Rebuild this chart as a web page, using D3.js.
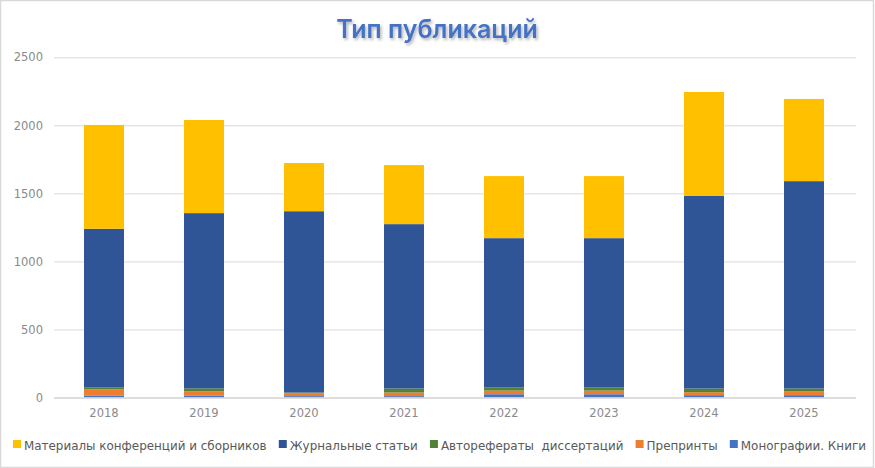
<!DOCTYPE html>
<html><head><meta charset="utf-8">
<script src="https://cdn.jsdelivr.net/npm/d3@7"></script>
<style>
html,body{margin:0;padding:0;background:#fff;}
svg{display:block;}
</style></head>
<body>
<svg id="chart" width="875" height="468"></svg>
<script>
const years = ["2018","2019","2020","2021","2022","2023","2024","2025"];
const monographs = [15, 15, 10, 10, 24, 24, 17, 17];
const preprints = [45, 30, 20, 27, 27, 27, 22, 27];
const autoref = [15, 22, 7, 29, 22, 22, 27, 22];
const journal = [1165, 1288, 1332, 1208, 1098, 1098, 1415, 1524];
const conference = [763, 684, 354, 434, 456, 456, 764, 604];
const yTicks = [0, 500, 1000, 1500, 2000, 2500];
const seriesNames = ["Монографии. Книги", "Препринты", "Авторефераты  диссертаций", "Журнальные статьи", "Материалы конференций и сборников"];
const seriesColors = ["#4472C4", "#ED7D31", "#548235", "#2F5597", "#FFC000"];
const seriesValues = [monographs, preprints, autoref, journal, conference];
const legendOrder = [4, 3, 2, 1, 0];

const svg = d3.select("#chart");
const W = 875, H = 468;

svg.append("rect").attr("x",0.5).attr("y",0.5).attr("width",W-2).attr("height",H-1)
  .attr("fill","#fff").attr("stroke","#d9d9d9").attr("stroke-width",1.5);

const defs = svg.append("defs");
const f = defs.append("filter").attr("id","shadow").attr("x","-10%").attr("y","-20%").attr("width","120%").attr("height","160%");
f.append("feDropShadow").attr("dx",1.5).attr("dy",2).attr("stdDeviation",1.5).attr("flood-color","#000").attr("flood-opacity",0.3);

svg.append("text").attr("x",437).attr("y",38).attr("text-anchor","middle")
  .attr("font-family","Inter, 'Open Sans', sans-serif").attr("font-weight",600).attr("font-size",25)
  .attr("fill","#4472C4").attr("filter","url(#shadow)").text("Тип публикаций");

const x = d3.scaleBand().domain(years).range([54, 854]).paddingInner(0.6).paddingOuter(0.3);
const y = d3.scaleLinear().domain([0, 2500]).range([397.5, 57.3]);

const yAxis = d3.axisLeft(y).tickValues(yTicks).tickSize(-(856-54)).tickPadding(10).tickFormat(d3.format("d"));
const gy = svg.append("g").attr("transform","translate(54,0)").call(yAxis);
gy.select(".domain").remove();
gy.selectAll(".tick line").attr("stroke","#d9d9d9").attr("stroke-width",1);
gy.selectAll(".tick text").attr("font-family","'DejaVu Sans', sans-serif").attr("font-size",11.5).attr("fill","#8a8a8a").attr("x",-11);

const table = years.map((yr,i)=>{const o={year:yr}; seriesNames.forEach((n,k)=>o[n]=seriesValues[k][i]); return o;});
const stack = d3.stack().keys(seriesNames)(table);

svg.append("g").selectAll("g").data(stack).join("g")
  .attr("fill",(d,i)=>seriesColors[i])
  .selectAll("rect").data(d=>d).join("rect")
  .attr("x",d=>x(d.data.year)).attr("width",x.bandwidth())
  .attr("y",d=>y(d[1])).attr("height",d=>y(d[0])-y(d[1]));

const xAxis = d3.axisBottom(x).tickSize(0).tickPadding(11);
const gx = svg.append("g").attr("transform","translate(0,398)").call(xAxis);
gx.select(".domain").attr("stroke","#d9d9d9").attr("stroke-width",1.5).attr("d","M54,0H856");
gx.selectAll(".tick text").attr("font-family","'DejaVu Sans', sans-serif").attr("font-size",11.5).attr("fill","#8a8a8a");

// legend: fit between x=13 and x=866
const lg = svg.append("g");
const baseFont = 12, sq = 8, sqGap = 3, itemGap = 12, left = 13, right = 866;
const texts = legendOrder.map(k => lg.append("text")
    .attr("font-family","'DejaVu Sans', sans-serif").attr("font-size",baseFont).attr("fill","#595959")
    .attr("xml:space","preserve").style("white-space","pre").attr("y",449.5).text(seriesNames[k]));
const widths = texts.map(t=>t.node().getComputedTextLength());
const fixed = legendOrder.length*(sq+sqGap) + (legendOrder.length-1)*itemGap;
const scale = Math.min(1.05, (right-left-fixed)/d3.sum(widths));
const fs = baseFont*scale;
let lx = left;
legendOrder.forEach((k,i)=>{
  lg.append("rect").attr("x",lx).attr("y",440).attr("width",sq).attr("height",sq).attr("fill",seriesColors[k]);
  texts[i].attr("font-size",fs).attr("x",lx+sq+sqGap);
  lx += sq + sqGap + widths[i]*scale + itemGap;
});
</script>
</body></html>
